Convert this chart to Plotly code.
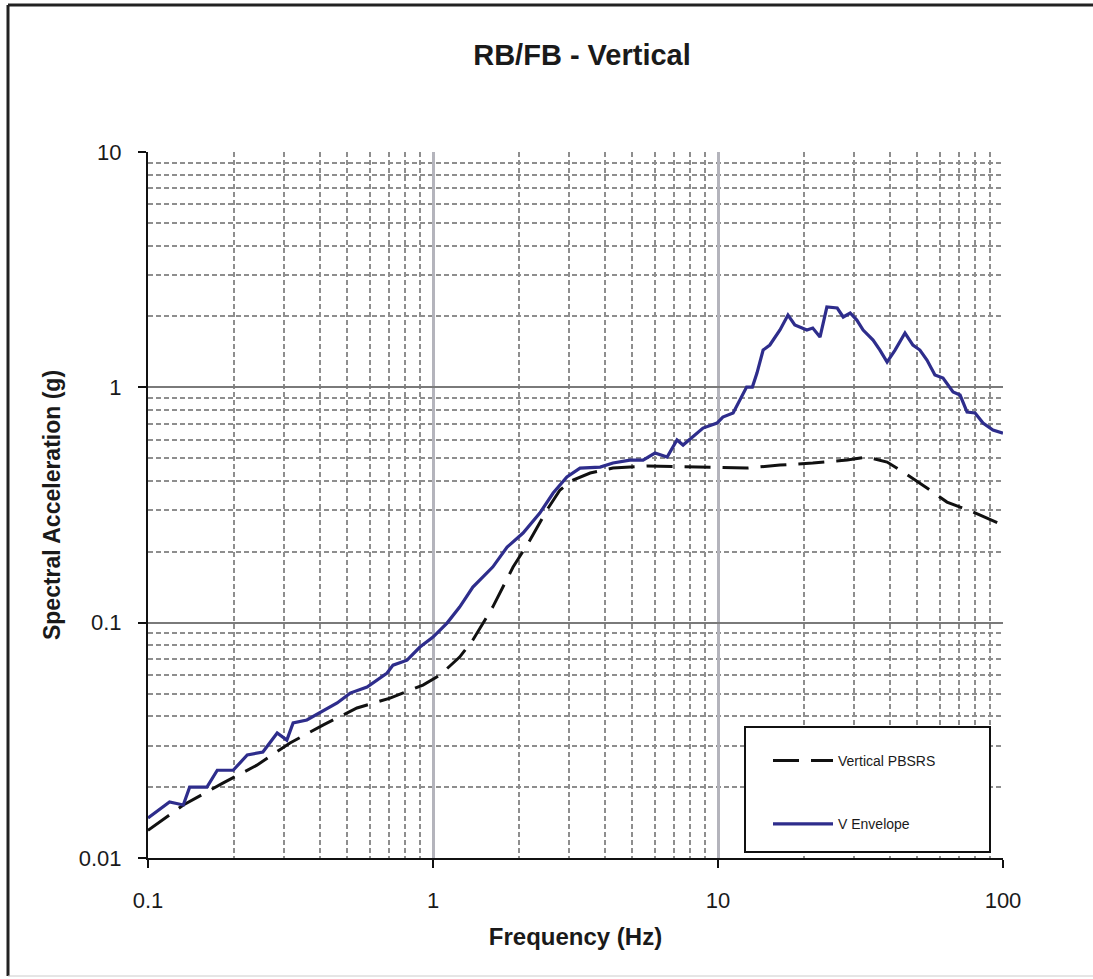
import plotly.graph_objects as go

# ---- data (frequency in Hz, spectral acceleration in g) ----
env_freq = [0.1, 0.119, 0.133, 0.140, 0.161, 0.175, 0.199, 0.223, 0.253, 0.284, 0.307, 0.323,
            0.361, 0.402, 0.461, 0.512, 0.587, 0.690, 0.724, 0.811, 0.900, 1.0, 1.12, 1.24,
            1.38, 1.62, 1.82, 2.07, 2.37, 2.64, 2.95, 3.28, 3.86, 4.28, 4.91, 5.46, 6.01,
            6.63, 7.18, 7.54, 8.17, 8.86, 9.92, 10.4, 11.3, 11.9, 12.6, 13.2, 13.7, 14.4,
            15.2, 16.5, 17.6, 18.6, 20.5, 21.5, 22.8, 24.1, 26.2, 27.5, 29.1, 30.7, 32.3,
            35.0, 37.0, 39.2, 41.8, 45.3, 48.3, 51.1, 54.1, 57.7, 61.6, 66.8, 70.7, 74.8,
            79.8, 85.1, 92.2, 100]
env_acc = [0.0148, 0.0173, 0.0168, 0.0200, 0.0200, 0.0236, 0.0236, 0.0274, 0.0282, 0.0340,
           0.0317, 0.0375, 0.0386, 0.0417, 0.0456, 0.0502, 0.0533, 0.0611, 0.0660, 0.0693,
           0.0788, 0.0869, 0.0996, 0.1165, 0.1417, 0.1723, 0.2096, 0.2403, 0.2922, 0.3555,
           0.4158, 0.4539, 0.4584, 0.4768, 0.4909, 0.491, 0.5256, 0.5055, 0.5971, 0.5686,
           0.6150, 0.6714, 0.7049, 0.7479, 0.7777, 0.883, 1.003, 1.003, 1.150, 1.440,
           1.513, 1.752, 2.029, 1.840, 1.752, 1.786, 1.636, 2.194, 2.173, 1.990, 2.069,
           1.932, 1.752, 1.589, 1.440, 1.281, 1.440, 1.701, 1.513, 1.440, 1.306, 1.128,
           1.095, 0.955, 0.927, 0.785, 0.778, 0.705, 0.658, 0.639]

pbsrs_freq = [0.1, 0.133, 0.183, 0.241, 0.315, 0.411, 0.541, 0.707, 0.922, 1.058, 1.24,
              1.38, 1.62, 1.91, 2.19, 2.51, 2.79, 3.10, 3.56, 4.28, 5.64, 8.44, 12.6,
              16.5, 21.5, 28.4, 33.3, 39.2, 44.6, 54.1, 63.6, 78.5, 100]
pbsrs_acc = [0.0131, 0.0168, 0.0208, 0.0248, 0.0308, 0.0367, 0.0434, 0.0478, 0.0543, 0.0599,
             0.0714, 0.0844, 0.1165, 0.1723, 0.2244, 0.3011, 0.3661, 0.4036, 0.4324,
             0.4539, 0.4629, 0.4584, 0.4539, 0.4674, 0.4768, 0.4909, 0.5055, 0.4815,
             0.4365, 0.3733, 0.3255, 0.2951, 0.2600]

x_ticks = [0.1, 1, 10, 100]
x_tick_text = ["0.1", "1", "10", "100"]
y_ticks = [0.01, 0.1, 1, 10]
y_tick_text = ["0.01", "0.1", "1", "10"]

title_text = "RB/FB - Vertical"
x_title = "Frequency (Hz)"
y_title = "Spectral Acceleration (g)"
name_pbsrs = "Vertical PBSRS"
name_env = "V Envelope"

# ---- layout constants ----
W, H = 1093, 979
L, R, T, B = 148, 90, 152, 121
PW = W - L - R
PH = H - T - B


def px_x(p):
    return (p - L) / PW


def px_y(p):
    return (H - B - p) / PH


x_minor = [m * 10 ** e for e in range(-1, 2) for m in range(2, 10)]
y_minor = [m * 10 ** e for e in range(-2, 1) for m in range(2, 10)]

FONT = "Arial, Liberation Sans, sans-serif"

fig = go.Figure()
fig.add_trace(go.Scatter(
    x=pbsrs_freq, y=pbsrs_acc, mode="lines", name=name_pbsrs, legendgroup="a",
    line=dict(color="#111111", width=3, dash="26px,12px"),
))
fig.add_trace(go.Scatter(
    x=env_freq, y=env_acc, mode="lines", name=name_env, legendgroup="b",
    line=dict(color="#2e2d8c", width=3.2),
))

axis_common = dict(
    type="log",
    showline=True, linecolor="#111111", linewidth=2,
    ticks="outside", ticklen=8, tickwidth=2, tickcolor="#111111",
    showgrid=True,
    zeroline=False,
    tickfont=dict(family=FONT, size=22, color="#1a1a1a"),
)

fig.update_xaxes(
    **axis_common,
    range=[-1, 2],
    gridcolor="#b4b4bc", gridwidth=3,
    tickvals=x_ticks, ticktext=x_tick_text,
    ticklabelstandoff=14,
    minor=dict(tickvals=x_minor, showgrid=True, gridcolor="#8e8e8e",
               griddash="5px,3px", gridwidth=1.6, ticks=""),
    title=dict(text="<b>" + x_title + "</b>",
               font=dict(family=FONT, size=24, color="#1a1a1a"), standoff=16),
)
fig.update_yaxes(
    **axis_common,
    range=[-2, 1],
    gridcolor="#7a7a7a", gridwidth=1.6,
    tickvals=y_ticks, ticktext=y_tick_text,
    ticklabelstandoff=12,
    minor=dict(tickvals=y_minor, showgrid=True, gridcolor="#8e8e8e",
               griddash="5px,3px", gridwidth=1.6, ticks=""),
    title=dict(text="<b>" + y_title + "</b>",
               font=dict(family=FONT, size=23, color="#1a1a1a"), standoff=12),
)

shapes = [
    # outer chart frame (top and left visible in the reference)
    dict(type="line", xref="paper", yref="paper", x0=px_x(8), x1=px_x(1100),
         y0=px_y(5), y1=px_y(5), line=dict(color="#222222", width=3)),
    dict(type="line", xref="paper", yref="paper", x0=px_x(8), x1=px_x(8),
         y0=px_y(5), y1=px_y(976), line=dict(color="#222222", width=3)),
    dict(type="line", xref="paper", yref="paper", x0=px_x(8), x1=px_x(1100),
         y0=px_y(976), y1=px_y(976), line=dict(color="#cccccc", width=1)),
    # legend box
    dict(type="rect", xref="paper", yref="paper", x0=px_x(745), x1=px_x(990),
         y0=px_y(852), y1=px_y(727), line=dict(color="#111111", width=2),
         fillcolor="white", layer="above"),
]

fig.update_layout(
    width=W, height=H,
    margin=dict(l=L, r=R, t=T, b=B),
    paper_bgcolor="white", plot_bgcolor="white",
    font=dict(family=FONT, color="#1a1a1a"),
    title=dict(text="<b>" + title_text + "</b>", x=px_x(582), xref="paper", xanchor="center",
               y=1 - 55 / H, yref="container", yanchor="middle",
               font=dict(family=FONT, size=29, color="#1a1a1a")),
    showlegend=True,
    legend=dict(x=px_x(768), y=px_y(745), xanchor="left", yanchor="top",
                bgcolor="rgba(0,0,0,0)", borderwidth=0,
                font=dict(family=FONT, size=14, color="#1a1a1a"),
                tracegroupgap=42, itemwidth=60),
    shapes=shapes,
)

fig.write_html("out.html")
